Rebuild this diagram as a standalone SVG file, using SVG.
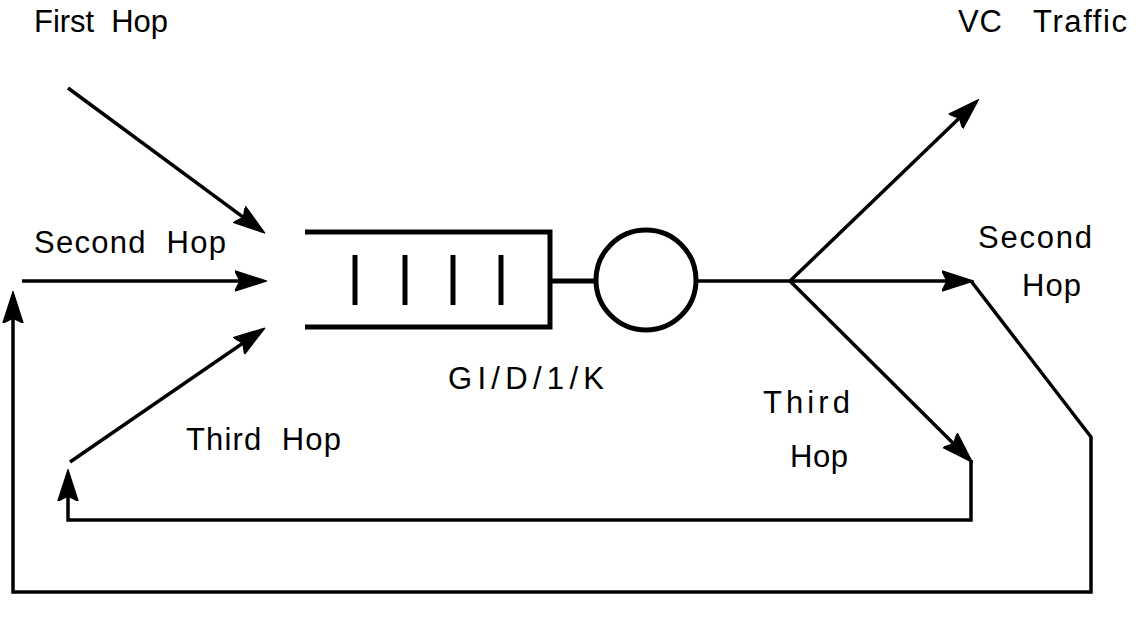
<svg xmlns="http://www.w3.org/2000/svg" width="1138" height="620" viewBox="0 0 1138 620">
  <defs>
    <marker id="arrow" markerUnits="userSpaceOnUse" markerWidth="32" markerHeight="24" viewBox="0 0 32 24" refX="28" refY="12" orient="auto">
      <path d="M0,2 L31,12 L0,22 L5,12 Z" fill="#000" stroke="#000" stroke-width="1.5" stroke-linejoin="miter"/>
    </marker>
    <style>
      .ln { fill: none; stroke: #000; stroke-width: 3.5; stroke-linejoin: miter; }
      .thick { fill: none; stroke: #000; stroke-width: 5; }
      .lbl { font-family: "Liberation Sans", Arial, sans-serif; font-size: 31px; fill: #000; white-space: pre; }
    </style>
  </defs>
  <rect width="1138" height="620" fill="#fff"/>

  <!-- queue with its service station -->
  <g id="queue">
    <path class="thick" d="M305,232 H550 V327 H305"/>
    <line class="thick" x1="355" y1="255" x2="355" y2="305"/>
    <line class="thick" x1="405" y1="255" x2="405" y2="305"/>
    <line class="thick" x1="453" y1="255" x2="453" y2="305"/>
    <line class="thick" x1="501" y1="255" x2="501" y2="305"/>
    <line class="thick" x1="550" y1="281" x2="596" y2="281"/>
  </g>
  <g id="server">
    <circle class="thick" cx="646" cy="280" r="50"/>
  </g>

  <g id="connectors">
    <!-- incoming traffic -->
    <line class="ln" x1="68" y1="88" x2="262" y2="231" marker-end="url(#arrow)"/>
    <line class="ln" x1="22" y1="281" x2="263" y2="281" marker-end="url(#arrow)"/>
    <line class="ln" x1="70" y1="462" x2="262" y2="330" marker-end="url(#arrow)"/>
    <!-- output split -->
    <line class="ln" x1="696" y1="281" x2="790" y2="281"/>
    <line class="ln" x1="790" y1="281" x2="976" y2="102" marker-end="url(#arrow)"/>
    <line class="ln" x1="790" y1="281" x2="970" y2="281" marker-end="url(#arrow)"/>
    <line class="ln" x1="790" y1="281" x2="970" y2="460" marker-end="url(#arrow)"/>
    <!-- feedback loops -->
    <path class="ln" d="M971,460 V520 H68 V473" marker-end="url(#arrow)"/>
    <path class="ln" d="M971,281 L1091,437 V592 H13 V295" marker-end="url(#arrow)"/>
  </g>

  <g id="labels">
    <text class="lbl" x="34" y="32" textLength="134" lengthAdjust="spacing">First  Hop</text>
    <text class="lbl" x="958" y="32" textLength="44" lengthAdjust="spacing">VC</text>
    <text class="lbl" x="1033" y="32" textLength="94" lengthAdjust="spacing">Traffic</text>
    <text class="lbl" x="34" y="253" textLength="192" lengthAdjust="spacing">Second  Hop</text>
    <text class="lbl" x="978" y="248" textLength="114" lengthAdjust="spacing">Second</text>
    <text class="lbl" x="1022" y="296" textLength="59" lengthAdjust="spacing">Hop</text>
    <text class="lbl" x="448" y="389" textLength="156" lengthAdjust="spacing">GI/D/1/K</text>
    <text class="lbl" x="763" y="413" textLength="87" lengthAdjust="spacing">Third</text>
    <text class="lbl" x="790" y="467" textLength="58" lengthAdjust="spacing">Hop</text>
    <text class="lbl" x="186" y="450" textLength="155" lengthAdjust="spacing">Third  Hop</text>
  </g>
</svg>
